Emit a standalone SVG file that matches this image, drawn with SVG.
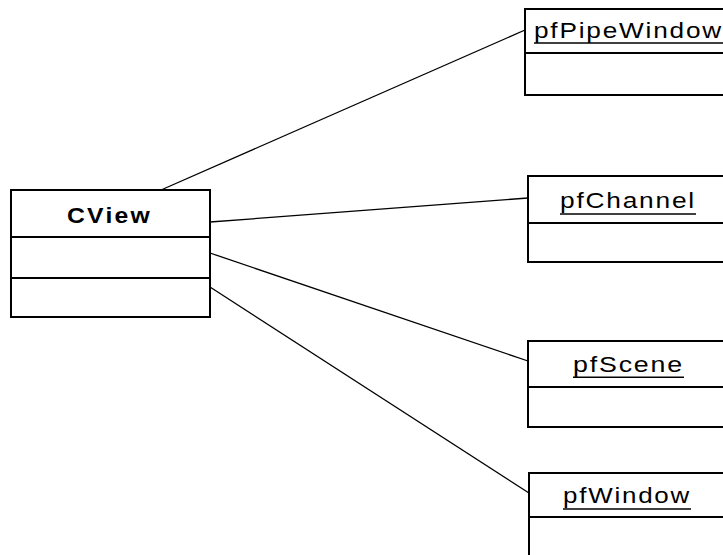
<svg xmlns="http://www.w3.org/2000/svg" width="723" height="555" viewBox="0 0 723 555">
<style>
.box{fill:#fff;stroke:#000;stroke-width:2}
.div{stroke:#000;stroke-width:2}
.conn{stroke:#000;stroke-width:1.3;fill:none}
.lbl{font-family:"Liberation Sans",Arial,sans-serif;font-size:22px;letter-spacing:1.5px;fill:#000}
.b{font-weight:bold;font-size:22px;letter-spacing:2px}
.ul{stroke:#000;stroke-width:1.5}
</style>
<rect width="723" height="555" fill="#fff"/>
<g id="connectors">
<line class="conn" x1="161" y1="190" x2="525" y2="30"/>
<line class="conn" x1="210" y1="222" x2="528" y2="198"/>
<line class="conn" x1="210" y1="253" x2="528" y2="361"/>
<line class="conn" x1="210" y1="287" x2="529" y2="493"/>
</g>
<g id="CView">
<rect class="box" x="11" y="190" width="199" height="127"/>
<line class="div" x1="11" y1="237" x2="210" y2="237"/>
<line class="div" x1="11" y1="278" x2="210" y2="278"/>
<text class="lbl b" x="67" y="223" textLength="85" lengthAdjust="spacingAndGlyphs">CView</text>
</g>
<g id="pfPipeWindow">
<rect class="box" x="525" y="9" width="210" height="86"/>
<line class="div" x1="525" y1="53" x2="723" y2="53"/>
<text class="lbl" x="534" y="37.5" textLength="189" lengthAdjust="spacingAndGlyphs">pfPipeWindow</text>
<line class="ul" x1="534" y1="43" x2="723" y2="43"/>
</g>
<g id="pfChannel">
<rect class="box" x="528" y="176" width="210" height="86"/>
<line class="div" x1="528" y1="223" x2="723" y2="223"/>
<text class="lbl" x="560" y="208.3" textLength="136" lengthAdjust="spacingAndGlyphs">pfChannel</text>
<line class="ul" x1="560" y1="214" x2="696" y2="214"/>
</g>
<g id="pfScene">
<rect class="box" x="528" y="341" width="210" height="86"/>
<line class="div" x1="528" y1="387" x2="723" y2="387"/>
<text class="lbl" x="573" y="371.7" textLength="111" lengthAdjust="spacingAndGlyphs">pfScene</text>
<line class="ul" x1="573" y1="377.3" x2="684" y2="377.3"/>
</g>
<g id="pfWindow">
<rect class="box" x="529" y="473" width="210" height="100"/>
<line class="div" x1="529" y1="517" x2="723" y2="517"/>
<text class="lbl" x="563" y="503.3" textLength="128" lengthAdjust="spacingAndGlyphs">pfWindow</text>
<line class="ul" x1="563" y1="509" x2="691" y2="509"/>
</g>
</svg>
